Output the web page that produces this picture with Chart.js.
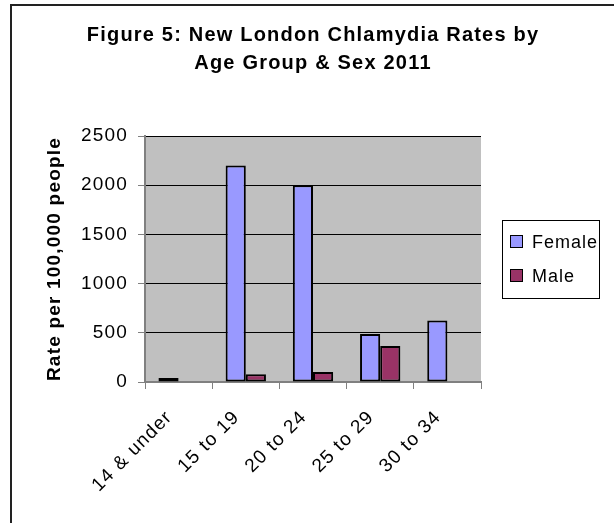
<!DOCTYPE html>
<html>
<head>
<meta charset="utf-8">
<script src="https://cdn.jsdelivr.net/npm/chart.js@4/dist/chart.umd.min.js"></script>
<style>
html,body{margin:0;padding:0;background:#fff;}
#wrap{width:614px;height:523px;}
</style>
</head>
<body>
<div id="wrap"><canvas id="c" width="614" height="523"></canvas></div>
<script>
const categories = ["14 & under", "15 to 19", "20 to 24", "25 to 29", "30 to 34"];
const femaleRates = [40, 2200, 2000, 487, 625];
const maleRates = [null, 78, 102, 367, null];
const yTicks = [0, 500, 1000, 1500, 2000, 2500];
const titleLines = ["Figure 5: New London Chlamydia Rates by", "Age Group & Sex 2011"];
const yTitle = "Rate per 100,000 people";
const seriesNames = ["Female", "Male"];
const seriesColors = ["#9999FF", "#993366"];

const FONT = "'Liberation Sans', Arial, sans-serif";
const SPACING = '1.2px';

const spacingPlugin = {
  id: 'spacing',
  beforeLayout(chart) { chart.ctx.letterSpacing = SPACING; },
  beforeDraw(chart) { chart.ctx.letterSpacing = SPACING; }
};

const framePlugin = {
  id: 'frame',
  beforeDraw(chart) {
    const ctx = chart.ctx;
    const a = chart.chartArea;
    ctx.save();
    ctx.fillStyle = '#ffffff';
    ctx.fillRect(0, 0, chart.width, chart.height);
    ctx.strokeStyle = '#222222';
    ctx.lineWidth = 2;
    ctx.strokeRect(11, 5, chart.width + 20, chart.height + 20);
    ctx.fillStyle = '#C0C0C0';
    ctx.fillRect(a.left, a.top, a.right - a.left, a.bottom - a.top);
    ctx.restore();
  },
  afterDraw(chart) {
    const ctx = chart.ctx;
    const a = chart.chartArea;
    const lx = a.right + 21, ly = a.top + 84, lw = 97, lh = 78;
    ctx.save();
    ctx.letterSpacing = '1px';
    ctx.strokeStyle = '#000';
    ctx.lineWidth = 1;
    ctx.strokeRect(lx + 0.5, ly + 0.5, lw, lh);
    ctx.font = '18px ' + FONT;
    ctx.textBaseline = 'middle';
    ctx.textAlign = 'left';
    chart.data.datasets.forEach((ds, i) => {
      const cy = ly + 22 + i * 34;
      ctx.fillStyle = ds.backgroundColor;
      ctx.fillRect(lx + 8.5, cy - 6.5, 12, 12);
      ctx.strokeRect(lx + 8.5, cy - 6.5, 12, 12);
      ctx.fillStyle = '#000';
      ctx.fillText(ds.label, lx + 30, cy + 1);
    });
    ctx.restore();
  }
};

new Chart(document.getElementById('c'), {
  type: 'bar',
  data: {
    labels: categories,
    datasets: [
      { label: seriesNames[0], data: femaleRates, backgroundColor: seriesColors[0], borderColor: '#000', borderWidth: 2, borderSkipped: false, categoryPercentage: 0.6, barPercentage: 1.0 },
      { label: seriesNames[1], data: maleRates, backgroundColor: seriesColors[1], borderColor: '#000', borderWidth: 2, borderSkipped: false, categoryPercentage: 0.6, barPercentage: 1.0 }
    ]
  },
  options: {
    responsive: false,
    animation: false,
    devicePixelRatio: 1,
    layout: { padding: { left: 12, top: 5, right: 0, bottom: 0 } },
    plugins: {
      legend: { display: false },
      tooltip: { enabled: false },
      title: {
        display: true,
        text: titleLines,
        color: '#000',
        font: { family: FONT, size: 20, weight: 'bold', lineHeight: 1.4 },
        padding: { top: 16, bottom: 59 }
      }
    },
    scales: {
      x: {
        grid: { display: true, offset: true, drawOnChartArea: false, drawTicks: true, tickLength: 7, color: '#808080', lineWidth: 1 },
        border: { display: true, color: '#808080', width: 2 },
        ticks: {
          color: '#000', font: { family: FONT, size: 19 }, minRotation: 45, maxRotation: 45, padding: 8, autoSkip: false,
          callback: (v, i) => categories[i] + '  '
        },
        afterFit(s) { s.height = 141; }
      },
      y: {
        min: 0, max: 2500,
        afterBuildTicks(s) { s.ticks = yTicks.map(v => ({ value: v })); },
        grid: { color: '#000', lineWidth: 1, tickLength: 7, tickColor: '#808080' },
        border: { display: true, color: '#808080', width: 2 },
        ticks: { color: '#000', font: { family: FONT, size: 19 }, padding: 10, callback: v => String(v) },
        title: { display: true, text: yTitle, color: '#000', font: { family: FONT, size: 19, weight: 'bold' }, padding: { top: 31, bottom: 0 } },
        afterFit(s) { s.width = 133; }
      },
      legendSpace: {
        type: 'linear', position: 'right', display: true,
        grid: { display: false }, border: { display: false }, ticks: { display: false },
        afterFit(s) { s.width = 133; }
      }
    }
  },
  plugins: [spacingPlugin, framePlugin]
});
</script>
</body>
</html>
